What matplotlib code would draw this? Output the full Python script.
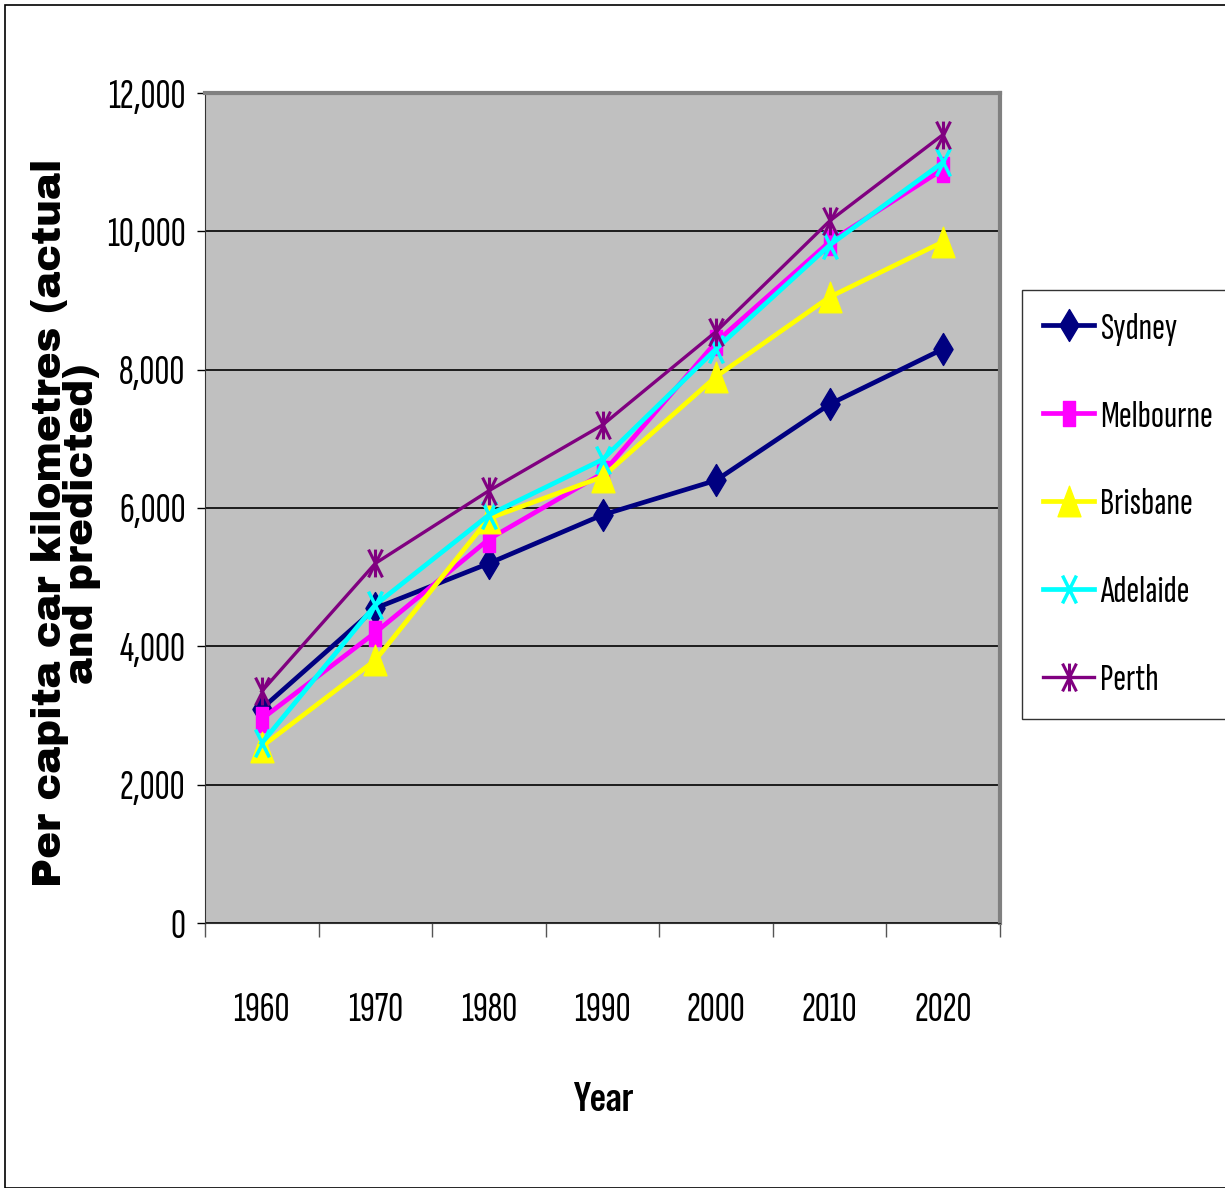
import matplotlib.pyplot as plt
from matplotlib.patches import Rectangle
from matplotlib.path import Path
import numpy as np

years = ['1960', '1970', '1980', '1990', '2000', '2010', '2020']
sydney = [3100, 4550, 5200, 5900, 6400, 7500, 8300]
melbourne = [2950, 4200, 5550, 6500, 8400, 9850, 10900]
brisbane = [2550, 3800, 5850, 6450, 7900, 9050, 9850]
adelaide = [2600, 4600, 5900, 6700, 8300, 9800, 11000]
perth = [3350, 5200, 6250, 7200, 8550, 10150, 11400]

narrow = ['Sofia Sans Extra Condensed', 'PT Sans Narrow', 'Liberation Sans', 'DejaVu Sans']
narrow_bold = ['Special Gothic Condensed One', 'Anton', 'Liberation Sans', 'DejaVu Sans']
heavy = ['Archivo Black', 'DejaVu Sans']

# tall (Excel-stretched) marker shapes
diamond = Path([(0, 1), (0.6, 0), (0, -1), (-0.6, 0), (0, 1)], closed=True)
square = Path([(-0.5, -1), (0.5, -1), (0.5, 1), (-0.5, 1), (-0.5, -1)], closed=True)
triangle = Path([(0, 1), (0.75, -1), (-0.75, -1), (0, 1)], closed=True)
cross = Path([(-0.5, -1), (0.5, 1), (-0.5, 1), (0.5, -1)],
             [Path.MOVETO, Path.LINETO, Path.MOVETO, Path.LINETO])
star = Path([(-0.5, -1), (0.5, 1), (-0.5, 1), (0.5, -1), (0, -1), (0, 1)],
            [Path.MOVETO, Path.LINETO, Path.MOVETO, Path.LINETO, Path.MOVETO, Path.LINETO])

fig = plt.figure(figsize=(12.25, 11.88), dpi=100)
fig.patches.append(Rectangle((5 / 1225, 0.0), 1.0, 1183 / 1188, transform=fig.transFigure,
                             fill=False, edgecolor='black', lw=1.2))

ax = fig.add_axes([205 / 1225, (1188 - 923) / 1188, 795 / 1225, 830 / 1188])
ax.set_facecolor('#C0C0C0')

x = np.arange(len(years)) + 0.5
ax.plot(x, sydney, color='#000080', lw=3.4, marker=diamond, ms=23, label='Sydney')
ax.plot(x, melbourne, color='#FF00FF', lw=3.4, marker=square, ms=18, label='Melbourne')
ax.plot(x, brisbane, color='#FFFF00', lw=3.4, marker=triangle, ms=22, label='Brisbane')
ax.plot(x, adelaide, color='#00FFFF', lw=3.4, marker=cross, ms=20, mew=2.5, mfc='none', label='Adelaide')
ax.plot(x, perth, color='#800080', lw=2.4, marker=star, ms=20, mew=2.2, mfc='none', label='Perth')

ax.set_xlim(0, len(years))
ax.set_ylim(0, 12000)
ax.set_yticks(np.arange(0, 12001, 2000))
ax.set_yticklabels(['{:,}'.format(v) for v in range(0, 12001, 2000)], family=narrow, fontsize=30)
ax.yaxis.grid(True, color='black', lw=1.2)
ax.set_axisbelow(True)

ax.set_xticks(np.arange(len(years) + 1))
ax.set_xticklabels([])
ax.set_xticks(x, minor=True)
ax.set_xticklabels(years, minor=True, family=narrow, fontsize=30)
ax.tick_params(axis='x', which='major', direction='out', length=10, width=1, color='#555555')
ax.tick_params(axis='x', which='minor', length=0, pad=50)
ax.tick_params(axis='y', direction='out', length=6, width=1, pad=8)

for s in ['top', 'right']:
    ax.spines[s].set_color('#808080')
    ax.spines[s].set_linewidth(3)
ax.spines['left'].set_color('#333333')
ax.spines['bottom'].set_color('#333333')

fig.text(603 / 1225, (1188 - 1100) / 1188, 'Year', family=narrow_bold, fontsize=29,
         fontweight='bold', ha='center', va='center')
fig.text(66 / 1225, (1188 - 523) / 1188, 'Per capita car kilometres (actual\nand predicted)',
         family=heavy, fontsize=29, fontweight='bold', rotation=90, ha='center', va='center',
         linespacing=0.78, multialignment='center')

leg = fig.legend(loc='upper left', bbox_to_anchor=(1022 / 1225, (1188 - 290) / 1188),
                 prop={'family': narrow, 'size': 28}, frameon=True, fancybox=False,
                 edgecolor='black', handlelength=1.3, handletextpad=0.15,
                 labelspacing=1.38, borderpad=0.55, borderaxespad=0)
leg.get_frame().set_linewidth(1)

fig.savefig('out.png', dpi=100)
